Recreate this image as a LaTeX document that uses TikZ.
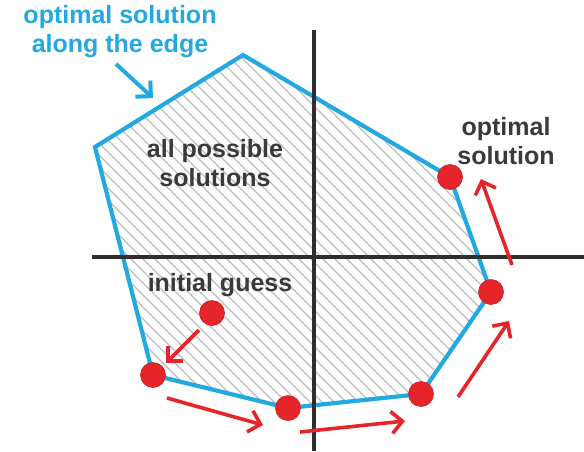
\documentclass[tikz,border=0pt]{standalone}
\usepackage{fontspec}
\setmainfont{Liberation Sans}
\usetikzlibrary{arrows.meta}
\definecolor{edgeblue}{HTML}{22A9E1}
\definecolor{dotred}{HTML}{E5252A}
\definecolor{txtgray}{HTML}{3A3A3A}
\definecolor{axisgray}{HTML}{2E2E2E}
\definecolor{hatchgray}{HTML}{BDBDBD}
\tikzset{
  lbl/.style={font=\fontsize{25}{29}\selectfont\bfseries, text=txtgray, align=center, inner sep=0pt},
  bluelbl/.style={lbl, text=edgeblue},
  dot/.style={circle, fill=dotred, draw=dotred!85!black, line width=0.6pt, minimum size=25pt, inner sep=0pt},
  redarrow/.style={draw=dotred, line width=3.6pt, -{Straight Barb[length=11pt,width=22pt,line width=3.6pt]}},
  bluearrow/.style={draw=edgeblue, line width=4pt, -{Straight Barb[length=11pt,width=22pt,line width=4pt]}},
  axis/.style={draw=axisgray, line width=3.6pt},
  edge/.style={draw=edgeblue, line width=4.2pt, line join=miter}
}
\begin{document}
\begin{tikzpicture}[x=1pt,y=-1pt]
\useasboundingbox (0,0) rectangle (584,451);
\fill[white] (0,0) rectangle (584,451);
% polygon vertices
\coordinate (A) at (95,147);
\coordinate (B) at (243,55);
\coordinate (C) at (450,177);
\coordinate (D) at (491,292);
\coordinate (E) at (421,394);
\coordinate (F) at (288,408);
\coordinate (G) at (153,375);
% hatching
\begin{scope}
\clip (A) -- (B) -- (C) -- (D) -- (E) -- (F) -- (G) -- cycle;
\foreach \i in {-500,-488,...,600}
  \draw[hatchgray, line width=1.1pt] (\i,0) -- (\i+500,500);
\end{scope}
% polygon
\draw[edge] (A) -- (B) -- (C) -- (D) -- (E) -- (F) -- (G) -- cycle;
% axes
\coordinate (xl) at (92,257);
\coordinate (xr) at (584,257);
\coordinate (yt) at (314,30);
\coordinate (yb) at (314,451);
\draw[axis] (xl) -- (xr);
\draw[axis] (yt) -- (yb);
% dots
\node[dot] (d0) at (212,313) {};
\node[dot] (d1) at (G) {};
\node[dot] (d2) at (F) {};
\node[dot] (d3) at (E) {};
\node[dot] (d4) at (D) {};
\node[dot] (d5) at (C) {};
% red arrows
\coordinate (a1s) at (199,330); \coordinate (a1e) at (166,363);
\coordinate (a2s) at (167,398); \coordinate (a2e) at (263,425);
\coordinate (a3s) at (300,432); \coordinate (a3e) at (405,421);
\coordinate (a4s) at (458,397); \coordinate (a4e) at (509,321);
\coordinate (a5s) at (512,265); \coordinate (a5e) at (481,179);
\draw[redarrow] (a1s) -- (a1e);
\draw[redarrow] (a2s) -- (a2e);
\draw[redarrow] (a3s) -- (a3e);
\draw[redarrow] (a4s) -- (a4e);
\draw[redarrow] (a5s) -- (a5e);
% labels
\node[bluelbl] (topl) at (120,32) {optimal solution\\along the edge};
\node[lbl] (allp) at (215,163) {all possible\\solutions};
\node[lbl] (optl) at (506,141) {optimal\\solution};
\node[lbl] (init) at (220,285) {initial guess};
% blue arrow
\coordinate (b1s) at (116,64); \coordinate (b1e) at (153,98);
\draw[bluearrow] (b1s) -- (b1e);
\end{tikzpicture}
\end{document}
